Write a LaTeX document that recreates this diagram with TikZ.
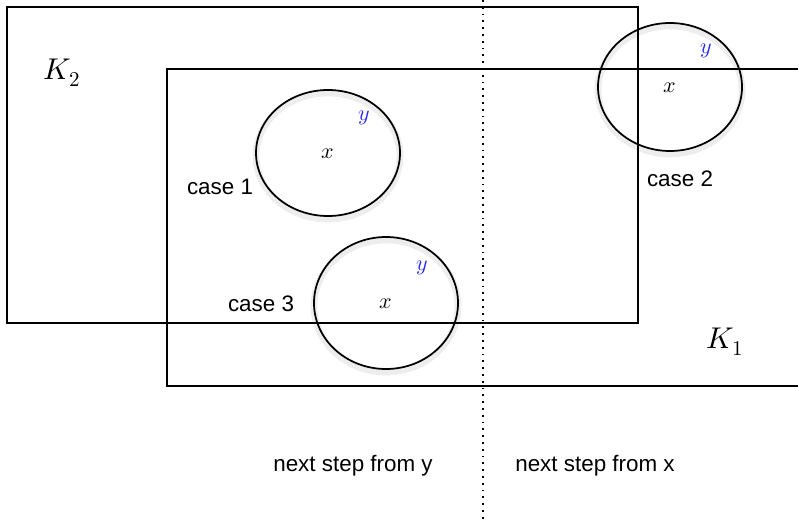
\documentclass[tikz,border=0pt]{standalone}
\usepackage{fontspec}
\newfontfamily\helv{Liberation Sans}
\usepackage{unicode-math}
\begin{document}
\begin{tikzpicture}[x=0.75pt,y=-0.75pt,
  region/.style={line width=1.3pt},
  ring/.style={line width=1.3pt},
  glow/.style={draw=black!7,line width=5pt},
  lbl/.style={font=\helv\fontsize{16.8}{19}\selectfont,inner sep=0pt},
  kl/.style={font=\fontsize{22.5}{25}\selectfont,inner sep=0pt},
  vl/.style={font=\fontsize{16.5}{18}\selectfont,inner sep=0pt},
  yl/.style={vl,text=blue!85!white}]
\useasboundingbox (0,0) rectangle (798,520);
% glows
\draw[glow] (328,156) ellipse [x radius=72,y radius=63];
\draw[glow] (670,90) ellipse [x radius=72,y radius=64];
\draw[glow] (386,306) ellipse [x radius=72,y radius=66];
% divider
\coordinate (dtop) at (483,0);
\coordinate (dbot) at (483,520);
\draw[line width=1.1pt,dash pattern=on 1.3pt off 3.8pt] (dtop) -- (dbot);
% regions
\draw[region] (7,7) rectangle (638,323);
\coordinate (k1a) at (799,69);
\coordinate (k1b) at (167,69);
\coordinate (k1c) at (167,386);
\coordinate (k1d) at (799,386);
\draw[region] (k1a) -- (k1b) -- (k1c) -- (k1d);
% circles
\draw[ring] (328,153) ellipse [x radius=72,y radius=63];
\draw[ring] (670,87) ellipse [x radius=72,y radius=64];
\draw[ring] (386,303) ellipse [x radius=72,y radius=66];
% labels
\node[kl] (K2) at (62,73) {$K_2$};
\node[kl] (K1) at (725,342) {$K_1$};
\node[vl] (x1) at (328,154) {$x$};
\node[yl] (y1) at (364,118) {$y$};
\node[vl] (x2) at (670,88) {$x$};
\node[yl] (y2) at (706,51) {$y$};
\node[vl] (x3) at (386,304) {$x$};
\node[yl] (y3) at (422,268) {$y$};
\node[lbl] (c1) at (220,187) {case 1};
\node[lbl] (c2) at (680,179) {case 2};
\node[lbl] (c3) at (261,304) {case 3};
\node[lbl] (n1) at (353,466) {next step from y};
\node[lbl] (n2) at (595,466) {next step from x};
\end{tikzpicture}
\end{document}
